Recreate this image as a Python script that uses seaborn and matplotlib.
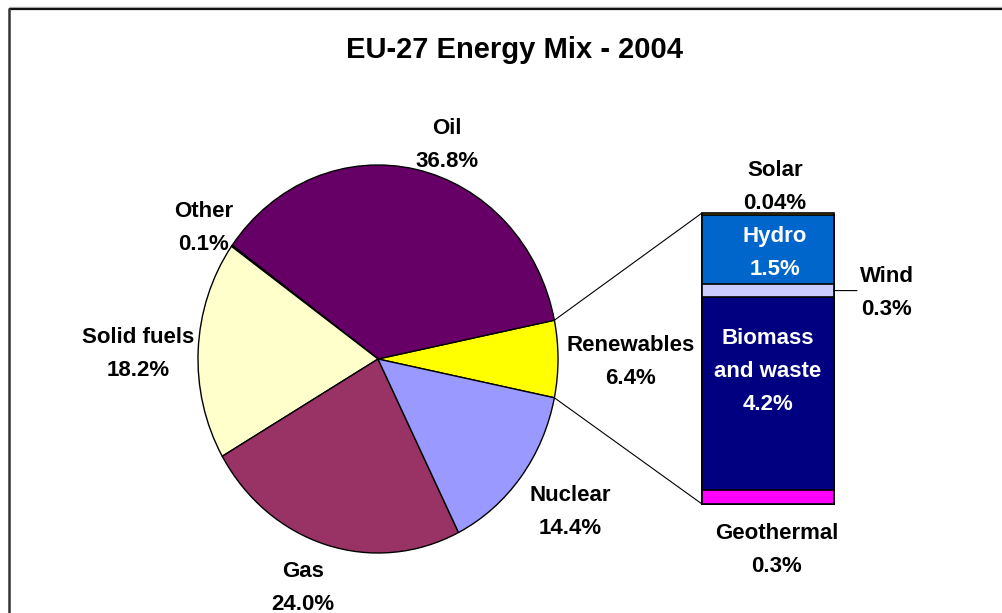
import matplotlib
matplotlib.use("Agg")
import numpy as np
import pandas as pd
import seaborn as sns
import matplotlib.pyplot as plt
from matplotlib.patches import ConnectionPatch

# Data
TITLE = "EU-27 Energy Mix - 2004"

pie_labels = ["Renewables", "Oil", "Other", "Solid fuels", "Gas", "Nuclear"]
pie_values = [6.4, 36.8, 0.1, 18.2, 24.0, 14.4]
pie_colors = ["#FFFF00", "#660066", "#CCFFFF", "#FFFFCC", "#993366", "#9999FF"]

# renewables breakdown, bottom to top
bar_labels = ["Geothermal", "Biomass and waste", "Wind", "Hydro", "Solar"]
bar_values = [0.3, 4.2, 0.3, 1.5, 0.04]
bar_colors = ["#FF00FF", "#000080", "#CCCCFF", "#0066CC", "#FFCC00"]

sns.set_theme(style="white")
plt.rcParams["font.family"] = ["Liberation Sans", "DejaVu Sans"]
plt.rcParams["font.weight"] = "bold"
plt.rcParams["text.color"] = "black"

W, H = 1003, 613
fig = plt.figure(figsize=(W / 100, H / 100), dpi=100)
fig.patch.set_facecolor("white")


def px_axes(x0, y0, x1, y1):
    return fig.add_axes([x0 / W, (H - y1) / H, (x1 - x0) / W, (y1 - y0) / H])


# pie (slightly elliptical like the original)
ax_pie = px_axes(198, 165, 558, 553)
ren_angle = 360 * pie_values[0] / sum(pie_values)
wedges, _ = ax_pie.pie(pie_values, colors=pie_colors, startangle=-ren_angle / 2,
                       counterclock=True,
                       wedgeprops=dict(edgecolor="black", linewidth=1))
ax_pie.set_aspect("auto")
ax_pie.set_xlim(-1, 1)
ax_pie.set_ylim(-1, 1)
ax_pie.axis("off")
for w in wedges:
    w.set_clip_on(False)

# stacked bar of renewables, drawn as overlapping cumulative bars
ax_bar = px_axes(702, 213, 834, 504)
cum = np.cumsum(bar_values)
bar_df = pd.DataFrame({"group": ["Renewables"] * len(cum), "cum": cum,
                       "part": bar_labels})
for i in range(len(cum) - 1, -1, -1):
    sns.barplot(data=bar_df.iloc[[i]], x="group", y="cum", color=bar_colors[i],
                saturation=1, width=1, edgecolor="black", linewidth=1.2,
                errorbar=None, ax=ax_bar)
ax_bar.set_xlim(-0.5, 0.5)
ax_bar.set_ylim(0, cum[-1])
ax_bar.axis("off")
for p in ax_bar.patches:
    p.set_clip_on(False)

# overlay axes in pixel coordinates for texts and frame (on top)
bg = fig.add_axes([0, 0, 1, 1])
bg.set_xlim(0, W)
bg.set_ylim(H, 0)
bg.axis("off")
bg.patch.set_alpha(0)

# frame of the chart area
bg.plot([9, W + 5], [6.5, 6.5], color="#BBBBBB", lw=1, solid_capstyle="butt")
bg.plot([9, W + 5], [8.5, 8.5], color="#111111", lw=1.6, solid_capstyle="butt")
bg.plot([9.5, 9.5], [8, H + 5], color="#333333", lw=1.8, solid_capstyle="butt")

# connector lines pie -> bar
a1 = np.deg2rad(ren_angle / 2)
for ya, yb in [(np.sin(a1), cum[-1]), (-np.sin(a1), 0)]:
    con = ConnectionPatch(xyA=(np.cos(a1), ya), coordsA=ax_pie.transData,
                          xyB=(-0.5, yb), coordsB=ax_bar.transData,
                          color="black", lw=0.8)
    fig.add_artist(con)

# wind leader line
wind_mid = cum[1] + bar_values[2] / 2
fig.add_artist(ConnectionPatch(xyA=(0.5, wind_mid), coordsA=ax_bar.transData,
                               xyB=(857, 290.6), coordsB=bg.transData,
                               color="black", lw=0.8))

# labels (y = baseline of the last line)
fs = 16
ls = 1.75
step = 33
pie_pos = {"Renewables": (631, 351), "Oil": (447, 134), "Other": (204, 217),
           "Solid fuels": (138, 343), "Gas": (303, 577), "Nuclear": (570, 501)}
for lab, val in zip(pie_labels, pie_values):
    x, y = pie_pos[lab]
    bg.text(x, y + step, f"{lab}\n{val:.1f}%", ha="center", va="baseline", fontsize=fs,
            fontweight="bold", linespacing=ls, color="black")

bar_pos = {"Geothermal": (777, 539), "Biomass and waste": (768, 344),
           "Wind": (887, 282), "Hydro": (775, 242), "Solar": (775, 176)}
bar_txt = {"Geothermal": "Geothermal\n0.3%", "Biomass and waste": "Biomass\nand waste\n4.2%",
           "Wind": "Wind\n0.3%", "Hydro": "Hydro\n1.5%", "Solar": "Solar\n0.04%"}
for lab in bar_labels:
    x, y = bar_pos[lab]
    txt = bar_txt[lab]
    col = "white" if lab in ("Hydro", "Biomass and waste") else "black"
    bg.text(x, y + step * txt.count("\n"), txt, ha="center", va="baseline", fontsize=fs,
            fontweight="bold", linespacing=ls, color=col)

bg.text(515, 58, TITLE, ha="center", va="baseline", fontsize=21, fontweight="bold",
        color="black")

fig.savefig("out.png", dpi=100)
